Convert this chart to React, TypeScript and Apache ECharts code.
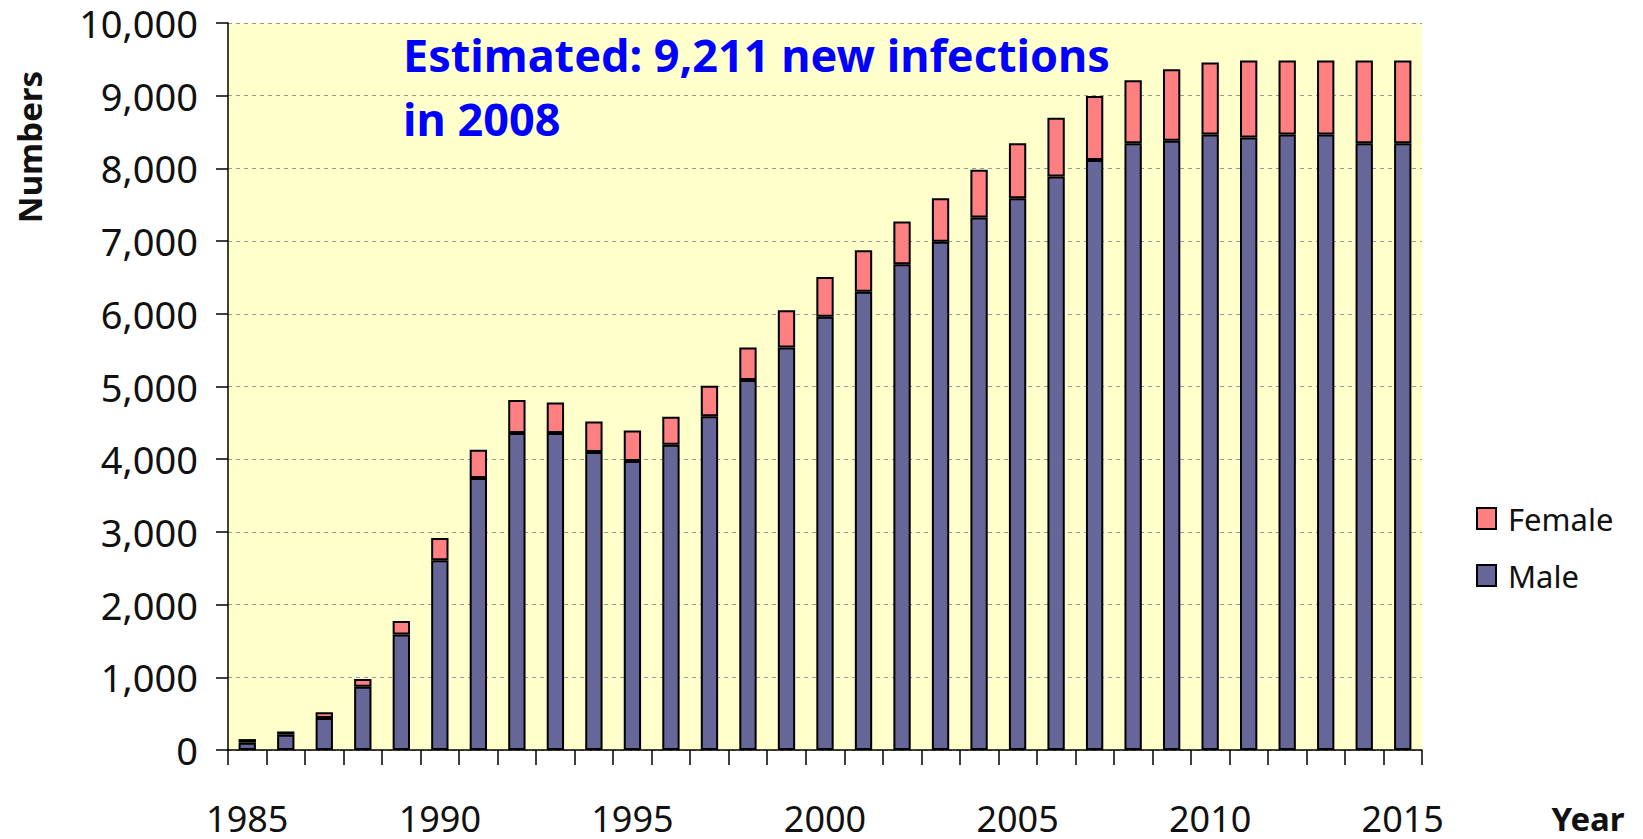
import React, { useEffect, useRef } from "react";
import * as echarts from "echarts";

const years = [
  "1985", "1986", "1987", "1988", "1989", "1990", "1991", "1992", "1993", "1994",
  "1995", "1996", "1997", "1998", "1999", "2000", "2001", "2002", "2003", "2004",
  "2005", "2006", "2007", "2008", "2009", "2010", "2011", "2012", "2013", "2014", "2015",
];
const male = [
  100, 210, 440, 870, 1590, 2610, 3740, 4360, 4360, 4100,
  3975, 4200, 4590, 5090, 5535, 5960, 6305, 6680, 6990, 7325,
  7590, 7890, 8115, 8345, 8380, 8465, 8425, 8465, 8465, 8345, 8345,
];
const female = [
  50, 45, 80, 105, 185, 305, 390, 455, 420, 420,
  420, 385, 420, 445, 515, 545, 570, 590, 600, 655,
  755, 805, 880, 866, 985, 990, 1060, 1020, 1020, 1140, 1140,
];
const yTicks = { min: 0, max: 10000, interval: 1000 };
const annotation = "Estimated: 9,211 new infections\nin 2008";

const FONT = "Noto Sans";

export default function App() {
  const ref = useRef<HTMLDivElement>(null);
  useEffect(() => {
    document.body.style.margin = "0";
    const chart = echarts.init(ref.current!, null, { renderer: "svg" });
    chart.setOption({
      animation: false,
      backgroundColor: "#ffffff",
      grid: {
        left: 228,
        right: 221,
        top: 23,
        bottom: 89,
        show: true,
        backgroundColor: "#FFFFCC",
        borderWidth: 0,
      },
      legend: {
        orient: "vertical",
        left: 1471,
        top: 498,
        data: ["Female", "Male"],
        icon: "rect",
        itemWidth: 19,
        itemHeight: 21,
        itemGap: 26,
        textStyle: { fontFamily: FONT, fontSize: 31, lineHeight: 30, color: "#111", padding: [0, 0, 0, 7] },
      },
      xAxis: {
        type: "category",
        data: years,
        boundaryGap: true,
        axisLine: { show: true, lineStyle: { color: "#000", width: 1.5 } },
        axisTick: { show: true, interval: 0, length: 15, lineStyle: { color: "#000", width: 1.5 } },
        axisLabel: {
          interval: 4,
          margin: 50,
          fontFamily: FONT,
          fontSize: 36,
          lineHeight: 36,
          color: "#111",
        },
      },
      yAxis: {
        type: "value",
        min: yTicks.min,
        max: yTicks.max,
        interval: yTicks.interval,
        axisLine: { show: true, lineStyle: { color: "#000", width: 1.5 } },
        axisTick: { show: true, length: 12, lineStyle: { color: "#000", width: 1.5 } },
        axisLabel: {
          margin: 30,
          fontFamily: FONT,
          fontSize: 38,
          lineHeight: 38,
          color: "#111",
          formatter: (v: number) => v.toLocaleString("en-US"),
        },
        splitLine: {
          show: true,
          lineStyle: { color: "#999999", type: [4, 4], width: 1 },
        },
      },
      series: [
        {
          name: "Male",
          type: "bar",
          stack: "total",
          data: male,
          barWidth: "45%",
          itemStyle: { color: "#666699", borderColor: "#000", borderWidth: 2 },
        },
        {
          name: "Female",
          type: "bar",
          stack: "total",
          data: female,
          barWidth: "45%",
          itemStyle: { color: "#FF8080", borderColor: "#000", borderWidth: 2 },
        },
      ],
      graphic: [
        {
          type: "text",
          x: 29,
          y: 147,
          rotation: Math.PI / 2,
          style: {
            text: "Numbers",
            fontFamily: FONT,
            fontSize: 33,
            fontWeight: "bold",
            fill: "#111",
            align: "center",
            verticalAlign: "middle",
          },
        },
        {
          type: "text",
          x: 1588,
          y: 818,
          style: {
            text: "Year",
            fontFamily: FONT,
            fontSize: 33,
            lineHeight: 33,
            fontWeight: "bold",
            fill: "#111",
            align: "center",
            verticalAlign: "middle",
          },
        },
        {
          type: "text",
          x: 403,
          y: 22,
          style: {
            text: annotation,
            fontFamily: FONT,
            fontSize: 45,
            fontWeight: "bold",
            lineHeight: 64,
            fill: "#0000FF",
            align: "left",
            verticalAlign: "top",
          },
        },
      ],
    });
    return () => chart.dispose();
  }, []);
  return <div ref={ref} style={{ width: 1643, height: 839 }} />;
}
